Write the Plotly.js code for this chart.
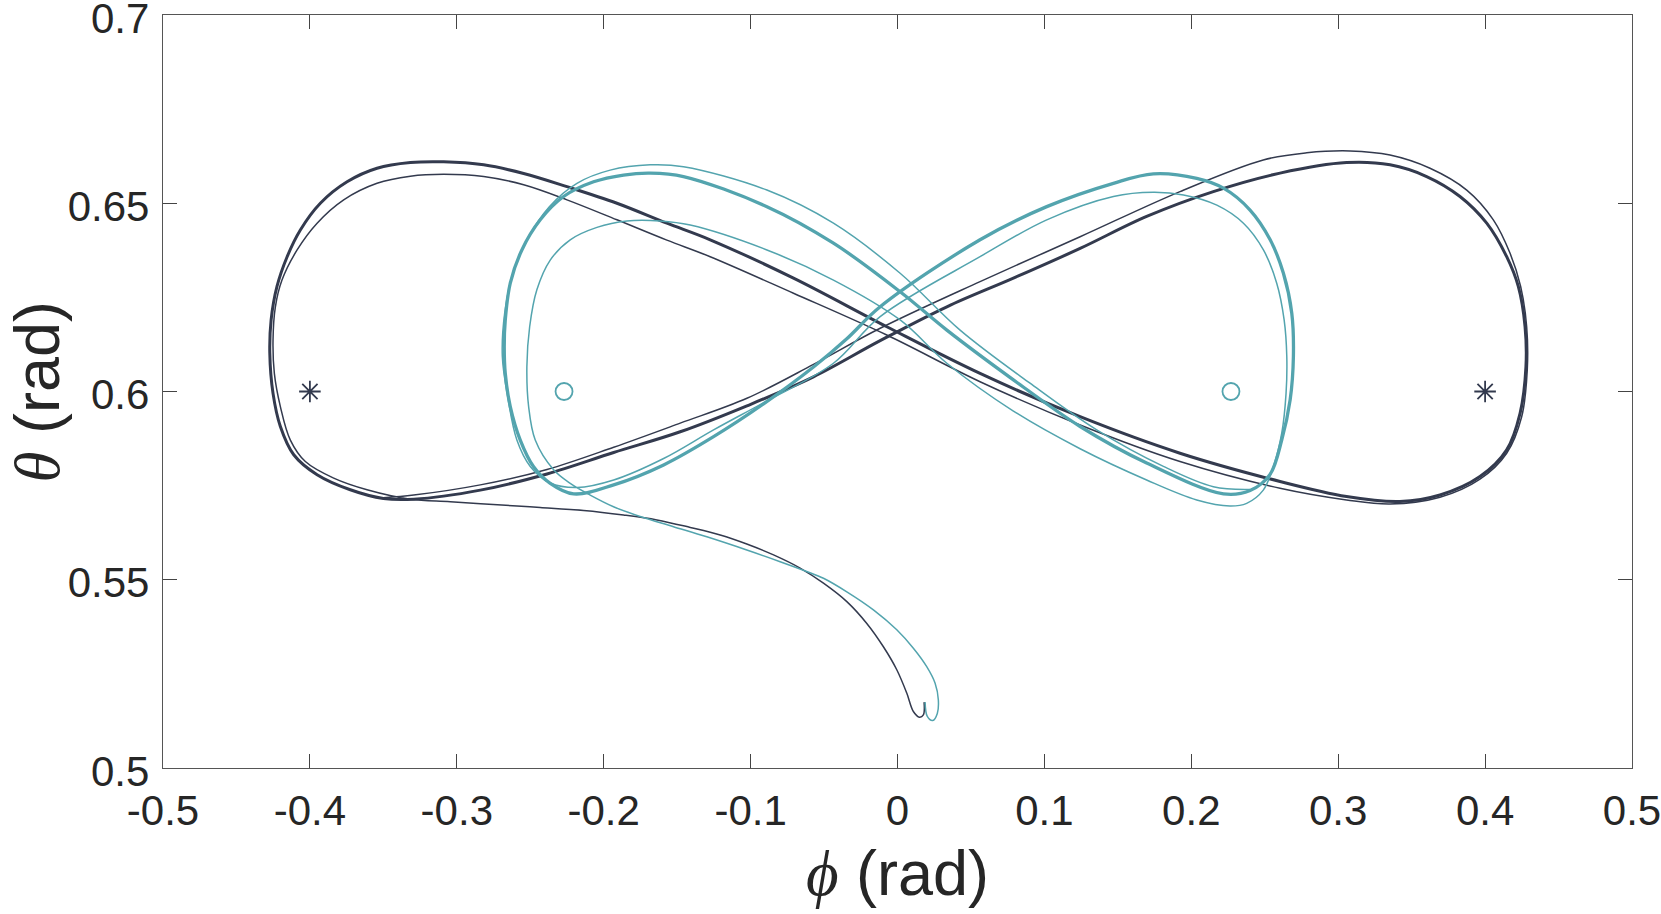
<!DOCTYPE html>
<html>
<head>
<meta charset="utf-8">
<script src="https://cdn.plot.ly/plotly-3.0.1.min.js"></script>
<style>
  html, body { margin: 0; padding: 0; background: #fff; }
  #chart { width: 1661px; height: 914px; }
</style>
</head>
<body>
<div id="chart"></div>
<script>
// ---------- data (phi, theta in rad) ----------
// dark trajectory: transient part (thin) and the settled figure-eight (thick)
const darkTransientPhi = [0.0181, 0.0176, 0.0149, 0.0108, 0.0063, -0.0005, -0.0096, -0.0209, -0.0345, -0.0504,
  -0.0663, -0.0844, -0.1026, -0.1207, -0.1411, -0.1638, -0.1865, -0.2137, -0.2432, -0.2590, -0.3044, -0.3316,
  -0.3611, -0.3838, -0.4031, -0.4133, -0.4201, -0.4242, -0.4251, -0.4235, -0.4190, -0.4087, -0.3951, -0.3770,
  -0.3543, -0.3316, -0.3090, -0.2817, -0.2545, -0.2250, -0.1910, -0.1570, -0.1275,
  -0.0708, -0.0073, 0.0562, 0.1243, 0.1923, 0.2604, 0.3057, 0.3353,
  0.3693, 0.3965, 0.4147, 0.4249, 0.4287, 0.4283, 0.4242, 0.4170, 0.4056, 0.3875, 0.3625, 0.3353, 0.3081,
  0.2786, 0.2490,
  0.1923, 0.1243, 0.0562, -0.0118, -0.0572, -0.1025, -0.1479, -0.1932, -0.2386, -0.2840, -0.3293, -0.3500];
const darkTransientTheta = [0.5175, 0.5141, 0.5135, 0.5150, 0.5199, 0.5261, 0.5322, 0.5384, 0.5442, 0.5491,
  0.5531, 0.5566, 0.5595, 0.5619, 0.5639, 0.5659, 0.5672, 0.5684, 0.5692, 0.5696, 0.5707, 0.5714,
  0.5739, 0.5770, 0.5814, 0.5871, 0.5960, 0.6048, 0.6137, 0.6225, 0.6296, 0.6376, 0.6447, 0.6509,
  0.6553, 0.6572, 0.6577, 0.6571, 0.6549, 0.6509, 0.6456, 0.6402, 0.6358,
  0.6261, 0.6150, 0.6026, 0.5911, 0.5814, 0.5743, 0.5712, 0.5701,
  0.5719, 0.5767, 0.5836, 0.5933, 0.6057, 0.6172, 0.6279, 0.6367, 0.6456, 0.6535, 0.6593, 0.6628, 0.6639,
  0.6634, 0.6615,
  0.6531, 0.6411, 0.6292, 0.6168, 0.6072, 0.5982, 0.5916, 0.5852, 0.5793, 0.5752, 0.5725, 0.5718];

const darkCyclePhi = [-0.1275, -0.0708, -0.0073, 0.0562, 0.1243, 0.1923, 0.2604, 0.3057, 0.3420, 0.3693, 0.3965,
  0.4147, 0.4238, 0.4278, 0.4272, 0.4226, 0.4147, 0.4011, 0.3829, 0.3602, 0.3353, 0.3057, 0.2604, 0.2150,
  0.1696, 0.1243, 0.0789, 0.0336, -0.0118, -0.0572, -0.1025, -0.1479, -0.1932, -0.2386, -0.2840, -0.3293,
  -0.3500, -0.3725, -0.3951, -0.4110, -0.4201, -0.4251, -0.4273, -0.4264, -0.4224, -0.4155, -0.4065, -0.3929,
  -0.3747, -0.3543, -0.3316, -0.3090, -0.2817, -0.2545, -0.2250, -0.1910, -0.1570, -0.1275];
const darkCycleTheta = [0.6403, 0.6301, 0.6172, 0.6048, 0.5933, 0.5836, 0.5761, 0.5721, 0.5708, 0.5725, 0.5774,
  0.5845, 0.5942, 0.6066, 0.6172, 0.6279, 0.6358, 0.6447, 0.6518, 0.6571, 0.6602, 0.6608, 0.6580, 0.6531,
  0.6465, 0.6380, 0.6301, 0.6225, 0.6135, 0.6039, 0.5962, 0.5893, 0.5838, 0.5781, 0.5738, 0.5714,
  0.5716, 0.5739, 0.5779, 0.5832, 0.5907, 0.5995, 0.6102, 0.6190, 0.6279, 0.6358, 0.6429, 0.6500,
  0.6557, 0.6593, 0.6608, 0.6610, 0.6602, 0.6579, 0.6544, 0.6500, 0.6447, 0.6403];

// teal trajectory: transient part (thin) and the settled figure-eight (thick)
const tealTransientPhi = [0.0188, 0.0203, 0.0240, 0.0271, 0.0278, 0.0256, 0.0199, 0.0108, -0.0005, -0.0164,
  -0.0345, -0.0504, -0.0618, -0.0799, -0.1026, -0.1298, -0.1525, -0.1752, -0.1933, -0.2092, -0.2228, -0.2341,
  -0.2466, -0.2511, -0.2523, -0.2504, -0.2455, -0.2364, -0.2228, -0.2046, -0.1842, -0.1615, -0.1411,
  -0.0889, -0.0436, 0.0018, 0.0336, 0.0789, 0.1243, 0.1696, 0.2037, 0.2263, 0.2377, 0.2490,
  0.2559, 0.2616, 0.2645, 0.2650, 0.2632, 0.2582, 0.2491, 0.2355, 0.2174, 0.1947, 0.1742,
  0.1470, 0.1016, 0.0562, -0.0118, -0.0436, -0.0889, -0.1252, -0.1592, -0.1932, -0.2182, -0.2364,
  -0.2500, -0.2591, -0.2650, -0.2690, -0.2674, -0.2618, -0.2522, -0.2370, -0.2182, -0.1956, -0.1683, -0.1457,
  -0.0889, -0.0436, 0.0018, 0.0426, 0.0902, 0.1356, 0.1810, 0.2150, 0.2400];
const tealTransientTheta = [0.5175, 0.5137, 0.5126, 0.5145, 0.5181, 0.5225, 0.5269, 0.5318, 0.5367, 0.5420,
  0.5468, 0.5504, 0.5522, 0.5548, 0.5579, 0.5614, 0.5641, 0.5668, 0.5694, 0.5725, 0.5756, 0.5792,
  0.5871, 0.5960, 0.6066, 0.6172, 0.6270, 0.6349, 0.6403, 0.6436, 0.6453, 0.6453, 0.6442,
  0.6376, 0.6296, 0.6190, 0.6075, 0.5948, 0.5848, 0.5765, 0.5712, 0.5696, 0.5703, 0.5738,
  0.5801, 0.5890, 0.5995, 0.6093, 0.6190, 0.6287, 0.6376, 0.6447, 0.6495, 0.6522, 0.6529,
  0.6518, 0.6456, 0.6358, 0.6199, 0.6075, 0.5975, 0.5898, 0.5822, 0.5765, 0.5745, 0.5757,
  0.5801, 0.5871, 0.5978, 0.6093, 0.6208, 0.6314, 0.6403, 0.6491, 0.6553, 0.6588, 0.6602, 0.6597,
  0.6535, 0.6447, 0.6314, 0.6163, 0.6022, 0.5898, 0.5801, 0.5747, 0.5740];

const tealCyclePhi = [-0.0436, 0.0018, 0.0336, 0.0789, 0.1243, 0.1696, 0.2219, 0.2400, 0.2536, 0.2616,
  0.2673, 0.2695, 0.2684, 0.2627, 0.2537, 0.2400, 0.2219, 0.2037, 0.1742, 0.1470, 0.1016, 0.0562, -0.0118,
  -0.0345, -0.0572, -0.0912, -0.1252, -0.1592, -0.1932, -0.2205, -0.2364, -0.2477, -0.2568, -0.2636, -0.2670,
  -0.2677, -0.2670, -0.2636, -0.2557, -0.2432, -0.2273, -0.2069, -0.1865, -0.1683, -0.1457, -0.0889, -0.0436];
const tealCycleTheta = [0.6394, 0.6265, 0.6163, 0.6031, 0.5907, 0.5810, 0.5728, 0.5737, 0.5780, 0.5872,
  0.5978, 0.6093, 0.6208, 0.6314, 0.6403, 0.6482, 0.6540, 0.6566, 0.6578, 0.6553, 0.6491, 0.6403, 0.6225,
  0.6140, 0.6065, 0.5967, 0.5880, 0.5805, 0.5752, 0.5728, 0.5756, 0.5800, 0.5871, 0.5960, 0.6048,
  0.6119, 0.6190, 0.6288, 0.6376, 0.6456, 0.6518, 0.6557, 0.6575, 0.6580, 0.6571, 0.6491, 0.6394];

// equilibrium points
const starPhi = [-0.4, 0.4];
const starTheta = [0.6, 0.6];
const circlePhi = [-0.227, 0.227];
const circleTheta = [0.6, 0.6];

// axis ticks
const xTickVals = [-0.5, -0.4, -0.3, -0.2, -0.1, 0, 0.1, 0.2, 0.3, 0.4, 0.5];
const xTickText = ['-0.5', '-0.4', '-0.3', '-0.2', '-0.1', '0', '0.1', '0.2', '0.3', '0.4', '0.5'];
const yTickVals = [0.5, 0.55, 0.6, 0.65, 0.7];
const yTickText = ['0.5', '0.55', '0.6', '0.65', '0.7'];

const DARK = '#333a4e';
const TEAL = '#53a4ae';

function line(x, y, color, width) {
    return {
        x: x, y: y, type: 'scatter', mode: 'lines',
        line: {color: color, width: width, shape: 'spline', smoothing: 1},
        hoverinfo: 'skip', showlegend: false
    };
}

const traces = [
    line(darkTransientPhi, darkTransientTheta, DARK, 1.5),
    line(darkCyclePhi, darkCycleTheta, DARK, 3),
    line(tealTransientPhi, tealTransientTheta, TEAL, 1.5),
    line(tealCyclePhi, tealCycleTheta, TEAL, 3.3),
    {
        x: starPhi, y: starTheta, type: 'scatter', mode: 'markers', showlegend: false,
        marker: {symbol: 'asterisk-open', size: 18, color: DARK, line: {color: DARK, width: 1.8}}
    },
    {
        x: circlePhi, y: circleTheta, type: 'scatter', mode: 'markers', showlegend: false,
        marker: {symbol: 'circle-open', size: 17, color: TEAL, line: {color: TEAL, width: 1.8}}
    }
];

const axisCommon = {
    showgrid: false, zeroline: false,
    showline: true, linecolor: '#555', linewidth: 1.2, mirror: 'ticks',
    ticks: 'inside', ticklen: 14, tickwidth: 1, tickcolor: '#444',
    ticklabeloverflow: 'allow',
    tickfont: {family: 'Liberation Sans, Arial, sans-serif', size: 42, color: '#262626'}
};

const titleFont = {family: 'Liberation Sans, Arial, sans-serif', size: 63, color: '#262626'};

const layout = {
    width: 1661, height: 914,
    margin: {l: 163, r: 29, t: 15, b: 146},
    paper_bgcolor: '#fff', plot_bgcolor: '#fff',
    xaxis: Object.assign({}, axisCommon, {
        range: [-0.5, 0.5], tickmode: 'array', tickvals: xTickVals, ticktext: xTickText,
        ticklabelstandoff: 5,
        title: {
            text: '<span style="font-family:Liberation Serif"><i>ϕ</i></span> (rad)',
            font: titleFont, standoff: 18
        }
    }),
    yaxis: Object.assign({}, axisCommon, {
        range: [0.5, 0.7], tickmode: 'array', tickvals: yTickVals, ticktext: yTickText,
        ticklabelstandoff: 4, ticklabelshift: 3
    }),
    // y title as a rotated annotation, pinned to the left page edge
    annotations: [{
        text: '<span style="font-family:Liberation Serif"><i>θ</i></span> (rad)',
        font: titleFont, textangle: -90, showarrow: false,
        xref: 'paper', yref: 'paper', x: -0.1107, y: 0.5,
        xanchor: 'left', yanchor: 'middle'
    }]
};

Plotly.newPlot('chart', traces, layout, {displayModeBar: false, staticPlot: true});
</script>
</body>
</html>
